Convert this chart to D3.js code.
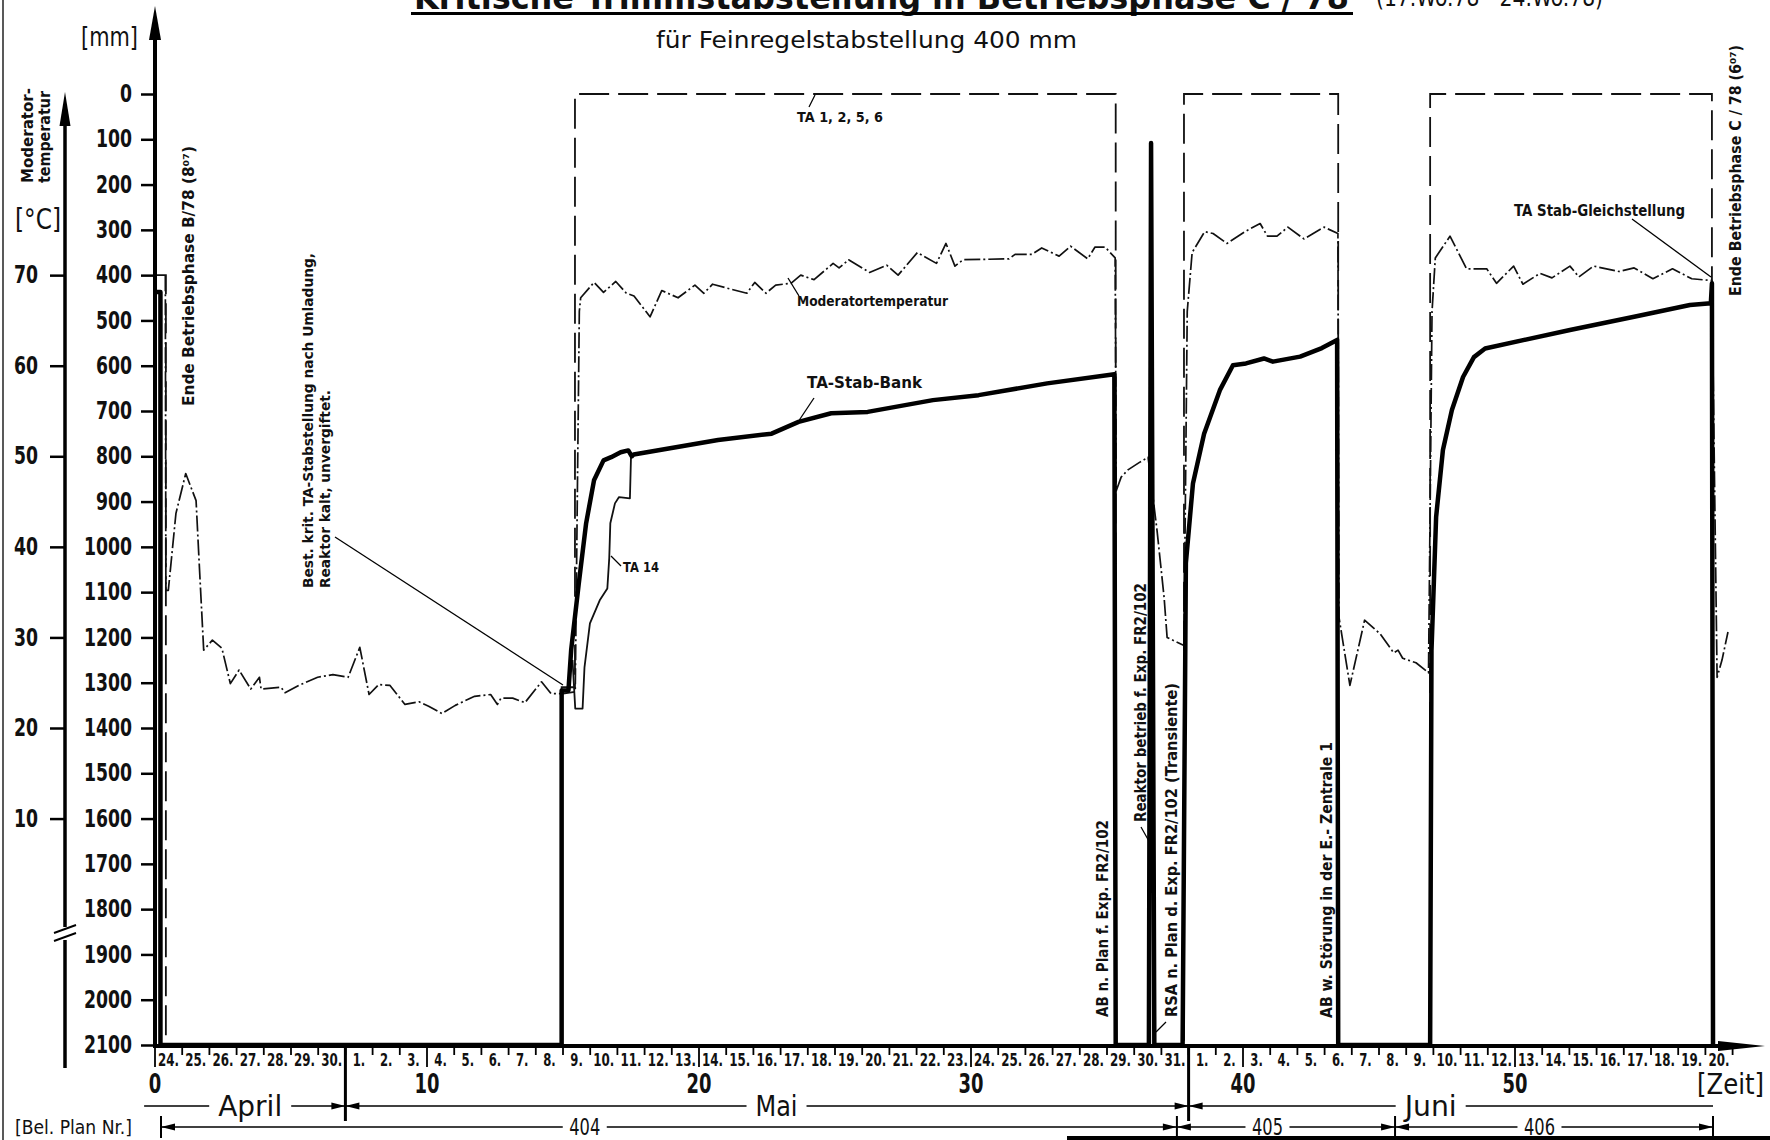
<!DOCTYPE html>
<html>
<head>
<meta charset="utf-8">
<script src="https://cdnjs.cloudflare.com/ajax/libs/d3/7.8.5/d3.min.js"></script>
<style>
  body { margin: 0; background: #fff; }
  svg { display: block; }
  text { fill: #111; }
</style>
</head>
<body>
<div id="chart"></div>
<script>
// ---- data ----
var mmTicks = [0, 100, 200, 300, 400, 500, 600, 700, 800, 900, 1000, 1100, 1200, 1300, 1400, 1500, 1600, 1700, 1800, 1900, 2000, 2100];
var tempTicks = [10, 20, 30, 40, 50, 60, 70];
var dayTicks = [0, 10, 20, 30, 40, 50];
var aprilDays = [24, 25, 26, 27, 28, 29, 30];
var maiDays = [1, 2, 3, 4, 5, 6, 7, 8, 9, 10, 11, 12, 13, 14, 15, 16, 17, 18, 19, 20, 21, 22, 23, 24, 25, 26, 27, 28, 29, 30, 31];
var juniDays = [1, 2, 3, 4, 5, 6, 7, 8, 9, 10, 11, 12, 13, 14, 15, 16, 17, 18, 19, 20];
var months = ["April", "Mai", "Juni"];
var monthBounds = [-0.4, 7, 38, 57.28];
var monthLabelDay = [3.5, 22.85, 46.9];
var planNames = ["404", "405", "406"];
var planBounds = [0.22, 37.57, 45.59, 57.28];
var planLabelDay = [15.8, 40.9, 50.9];

// TA-Stab-Bank position [day, mm]
var bankPos = [
  [0, 437], [0.2, 437], [0.2, 2100], [14.95, 2100], [14.95, 1317], [15.2, 1317], [15.3, 1228],
  [15.58, 1081], [15.85, 948], [16.14, 853], [16.49, 809], [16.77, 802], [17.12, 791], [17.4, 787],
  [17.53, 800], [17.6, 796], [20.7, 764], [22.67, 750], [23.66, 724], [24.86, 705], [26.2, 702],
  [28.6, 676], [30.28, 665], [32.8, 639], [35.27, 619], [35.32, 2100], [36.54, 2100], [36.62, 108],
  [36.74, 2100], [37.78, 2100], [37.9, 1036], [38.16, 860], [38.57, 750], [39.15, 654], [39.63, 599],
  [40.11, 595], [40.77, 584], [41.1, 591], [42.1, 580], [42.9, 561], [43.46, 543], [43.5, 2100],
  [46.88, 2100], [46.93, 1228], [47.1, 934], [47.35, 786], [47.68, 698], [48.09, 625], [48.49, 581],
  [48.9, 562], [52.02, 521], [54.38, 492], [56.43, 466], [57.2, 462], [57.24, 418], [57.28, 2100]
];

// TA 14 [day, mm]
var ta14Pos = [
  [15.35, 1250], [15.45, 1357], [15.72, 1357], [15.79, 1266], [15.99, 1169], [16.35, 1118],
  [16.63, 1092], [16.7, 1025], [16.74, 948], [16.91, 904], [17.06, 890], [17.46, 893], [17.5, 801]
];

// TA 1, 2, 5, 6 [day, mm]
var ta1256Pos = [
  [0, 400], [0.4, 400], [0.4, 2100], [14.95, 2100], [14.95, 1310], [15.44, 1310], [15.44, 0],
  [35.32, 0], [35.32, 2100], [37.83, 2100], [37.83, 0], [43.5, 0], [43.5, 2100], [46.88, 2100],
  [46.88, 0], [57.24, 0], [57.24, 410], [57.28, 2100]
];

// Moderatortemperatur [day, °C]
var moderatorTemp = [
  [0.38, 70], [0.4, 35.2], [0.49, 35.2], [0.77, 43.7], [1.13, 48.1], [1.51, 45.1], [1.62, 38.5],
  [1.79, 28.6], [2.11, 29.7], [2.46, 28.8], [2.77, 24.9], [3.09, 26.4], [3.52, 24.3], [3.84, 25.6],
  [3.9, 24.3], [4.63, 24.5], [4.78, 23.9], [5.28, 24.7], [5.98, 25.6], [6.54, 25.9], [7.1, 25.6],
  [7.53, 28.9], [7.87, 23.7], [8.23, 24.8], [8.64, 24.7], [9.19, 22.6], [9.71, 22.9], [10.06, 22.4],
  [10.55, 21.6], [11.04, 22.5], [11.75, 23.5], [12.34, 23.7], [12.59, 22.6], [12.72, 23.3],
  [13.15, 23.3], [13.6, 22.8], [14.21, 25.1], [14.56, 23.8], [15.0, 23.8], [15.45, 24], [15.6, 66],
  [15.65, 67.5], [16.14, 69.2], [16.49, 68.1], [16.94, 69.3], [17.33, 68], [17.61, 67.7], [18.2, 65.4],
  [18.63, 68.3], [19.23, 67.5], [19.85, 68.9], [20.18, 68], [20.5, 69], [20.99, 68.6], [21.76, 68],
  [22.05, 69.2], [22.46, 68], [22.82, 68.9], [23.38, 69.1], [23.74, 70], [24.23, 69.5], [24.93, 71.3],
  [25.15, 70.8], [25.5, 71.7], [26.27, 70.3], [26.9, 71.1], [27.32, 70], [28.03, 72.5], [28.73, 71.3],
  [29.08, 73.5], [29.41, 71], [29.71, 71.7], [31.4, 71.8], [31.62, 72.3], [32.24, 72.3], [32.6, 73],
  [33.24, 72.1], [33.66, 73.2], [34.29, 71.8], [34.56, 73.1], [34.93, 73.1], [35.3, 71.9],
  [35.34, 46.2], [35.52, 47.7], [35.77, 48.5], [36.18, 49.3], [36.51, 49.9], [36.84, 41.8],
  [37.1, 34.4], [37.21, 30], [37.83, 29.1], [37.95, 66], [38.13, 72.5], [38.59, 74.8], [38.9, 74.6],
  [39.41, 73.5], [40.07, 74.8], [40.63, 75.7], [40.9, 74.3], [41.25, 74.3], [41.65, 75.3], [42.24, 74],
  [42.98, 75.3], [43.49, 74.6], [43.53, 32.2], [43.93, 24.7], [44.47, 31.9], [45.04, 30.4],
  [45.54, 28.3], [45.7, 28.6], [45.87, 27.7], [46.36, 27.2], [46.82, 26.1], [46.95, 66], [47.07, 71.9],
  [47.61, 74.3], [48.22, 70.7], [48.96, 70.7], [49.32, 69.1], [49.95, 71], [50.29, 69], [50.92, 70.2],
  [51.36, 69.7], [52.02, 71], [52.35, 69.8], [52.89, 71], [53.82, 70.4], [54.38, 70.8], [55.07, 69.6],
  [55.79, 70.7], [56.5, 69.6], [57.24, 69.4], [57.43, 25.6], [57.61, 27.5], [57.83, 30.6]
];

// ---- setup ----
var W = 1770, H = 1140;
var cond = "'DejaVu Sans Condensed','DejaVu Sans',sans-serif";
var plain = "'DejaVu Sans','Liberation Sans',sans-serif";

var svg = d3.select("#chart").append("svg")
  .attr("width", W)
  .attr("height", H);

var x = d3.scaleLinear().domain([0, 50]).range([155, 1515]);
var y = d3.scaleLinear().domain([0, 2100]).range([94, 1045]);
var yT = d3.scaleLinear().domain([0, 70]).range([y(1800), y(400)]);

// squeeze a text to a given width (the original lettering is narrow)
function fit(sel, len) {
  sel.attr("textLength", len).attr("lengthAdjust", "spacingAndGlyphs");
  return sel;
}

// left page edge
svg.append("line").attr("x1", 3).attr("x2", 3).attr("y1", 0).attr("y2", H)
  .attr("stroke", "#222").attr("stroke-width", 1.5);
// scan edge bottom right
svg.append("line").attr("x1", 1067).attr("x2", W).attr("y1", 1138).attr("y2", 1138)
  .attr("stroke", "#000").attr("stroke-width", 4);

// title (cut off at top of the scan, as in the original)
fit(svg.append("text").attr("x", 414).attr("y", 9)
  .attr("font-family", cond).attr("font-weight", "bold").attr("font-size", 34)
  .text("Kritische Trimmstabstellung in Betriebsphase  C / 78"), 935);
svg.append("line").attr("x1", 411).attr("x2", 1353).attr("y1", 13.5).attr("y2", 13.5)
  .attr("stroke", "#000").attr("stroke-width", 3);
fit(svg.append("text").attr("x", 1376).attr("y", 6)
  .attr("font-family", cond).attr("font-size", 24)
  .text("(17.Wo.78 - 24.Wo.78)"), 227);

fit(svg.append("text").attr("x", 656).attr("y", 48)
  .attr("font-family", cond).attr("font-size", 23)
  .text("für Feinregelstabstellung 400 mm"), 421);

// ---- series ----
var lineMM = d3.line().x(function(d) { return x(d[0]); }).y(function(d) { return y(d[1]); });
var lineT = d3.line().x(function(d) { return x(d[0]); }).y(function(d) { return yT(d[1]); });

svg.append("path").datum(ta1256Pos).attr("d", lineMM)
  .attr("fill", "none").attr("stroke", "#111").attr("stroke-width", 1.8)
  .attr("stroke-dasharray", "30,9");

svg.append("path").datum(moderatorTemp).attr("d", lineT)
  .attr("fill", "none").attr("stroke", "#111").attr("stroke-width", 1.7)
  .attr("stroke-linejoin", "round")
  .attr("stroke-dasharray", "16,3,2,3");

svg.append("path").datum(ta14Pos).attr("d", lineMM)
  .attr("fill", "none").attr("stroke", "#111").attr("stroke-width", 1.8)
  .attr("stroke-linejoin", "round");

svg.append("path").datum(bankPos).attr("d", lineMM)
  .attr("fill", "none").attr("stroke", "#000").attr("stroke-width", 4.5)
  .attr("stroke-linejoin", "round");

// ---- mm axis ----
var mmAxis = svg.append("g").attr("transform", "translate(155,0)")
  .call(d3.axisLeft(y).tickValues(mmTicks).tickSize(14).tickPadding(9).tickFormat(d3.format("d")));
mmAxis.select(".domain").remove();
mmAxis.selectAll(".tick line").attr("stroke", "#000").attr("stroke-width", 2.5);
mmAxis.selectAll(".tick text").attr("font-family", cond).attr("font-weight", "bold")
  .attr("font-size", 24).attr("fill", "#111")
  .attr("textLength", function(d) { return String(d).length * 12; })
  .attr("lengthAdjust", "spacingAndGlyphs");
svg.append("line").attr("x1", 155).attr("x2", 155).attr("y1", 30).attr("y2", 1048)
  .attr("stroke", "#000").attr("stroke-width", 4);
svg.append("path").attr("d", "M155,6 L161,40 L149,40 Z").attr("fill", "#000");
fit(svg.append("text").attr("x", 81).attr("y", 46)
  .attr("font-family", cond).attr("font-size", 27).text("[mm]"), 57);

// ---- temperature axis ----
var tAxis = svg.append("g").attr("transform", "translate(65,0)")
  .call(d3.axisLeft(yT).tickValues(tempTicks).tickSize(15).tickPadding(12));
tAxis.select(".domain").remove();
tAxis.selectAll(".tick line").attr("stroke", "#000").attr("stroke-width", 2.5);
tAxis.selectAll(".tick text").attr("font-family", cond).attr("font-weight", "bold")
  .attr("font-size", 24).attr("fill", "#111")
  .attr("textLength", function(d) { return String(d).length * 12; })
  .attr("lengthAdjust", "spacingAndGlyphs");
svg.append("line").attr("x1", 65).attr("x2", 65).attr("y1", 115).attr("y2", 927)
  .attr("stroke", "#000").attr("stroke-width", 3.5);
svg.append("line").attr("x1", 65).attr("x2", 65).attr("y1", 940).attr("y2", 1068)
  .attr("stroke", "#000").attr("stroke-width", 3.5);
svg.append("line").attr("x1", 54).attr("x2", 76).attr("y1", 933).attr("y2", 925)
  .attr("stroke", "#000").attr("stroke-width", 2);
svg.append("line").attr("x1", 54).attr("x2", 76).attr("y1", 941).attr("y2", 933)
  .attr("stroke", "#000").attr("stroke-width", 2);
svg.append("path").attr("d", "M65,92 L70.5,126 L59.5,126 Z").attr("fill", "#000");
fit(svg.append("text").attr("x", 15).attr("y", 229)
  .attr("font-family", cond).attr("font-size", 28).text("[°C]"), 46);
fit(svg.append("text").attr("transform", "translate(33,183) rotate(-90)")
  .attr("font-family", plain).attr("font-weight", "bold").attr("font-size", 15)
  .text("Moderator-"), 95);
fit(svg.append("text").attr("transform", "translate(50,183) rotate(-90)")
  .attr("font-family", plain).attr("font-weight", "bold").attr("font-size", 15)
  .text("temperatur"), 92);

// ---- time axis ----
svg.append("line").attr("x1", 153).attr("x2", 1735).attr("y1", 1046).attr("y2", 1046)
  .attr("stroke", "#000").attr("stroke-width", 4);
svg.append("path").attr("d", "M1765,1046 L1718,1041 L1718,1051 Z").attr("fill", "#000");

var dayLabels = aprilDays.concat(maiDays, juniDays);
var dayIdx = d3.range(dayLabels.length + 1);
svg.append("g").selectAll("line").data(dayIdx).join("line")
  .attr("x1", function(d) { return x(d); }).attr("x2", function(d) { return x(d); })
  .attr("y1", 1048)
  .attr("y2", function(d) { return d % 10 === 0 ? 1067 : 1055; })
  .attr("stroke", "#000").attr("stroke-width", 1.8);
svg.append("g").selectAll("text").data(dayLabels).join("text")
  .attr("x", function(d, i) { return x(i + 0.5); })
  .attr("y", 1066)
  .attr("text-anchor", "middle")
  .attr("font-family", cond).attr("font-weight", "bold").attr("font-size", 18)
  .attr("textLength", function(d) { return String(d).length * 8.5 + 4; })
  .attr("lengthAdjust", "spacingAndGlyphs")
  .text(function(d) { return d + "."; });
svg.append("g").selectAll("text").data(dayTicks).join("text")
  .attr("x", function(d) { return x(d); })
  .attr("y", 1093)
  .attr("text-anchor", "middle")
  .attr("font-family", cond).attr("font-weight", "bold").attr("font-size", 26)
  .attr("textLength", function(d) { return String(d).length * 12.5; })
  .attr("lengthAdjust", "spacingAndGlyphs")
  .text(function(d) { return d; });
fit(svg.append("text").attr("x", 1697).attr("y", 1094)
  .attr("font-family", cond).attr("font-size", 28).text("[Zeit]"), 67);

// arrowhead helper: tip at (tx, ty), pointing dir (+1 right / -1 left)
function arrowHead(g, tx, ty, dir) {
  g.append("path")
    .attr("d", "M" + tx + "," + ty + " L" + (tx - dir * 14) + "," + (ty - 3.5) +
      " L" + (tx - dir * 14) + "," + (ty + 3.5) + " Z")
    .attr("fill", "#000");
}

// month row
var monthRow = svg.append("g");
var monthY = 1106;
var monthWidth = [64, 42, 52];
months.forEach(function(m, i) {
  var a = x(monthBounds[i]), b = x(monthBounds[i + 1]);
  var c = x(monthLabelDay[i]);
  fit(monthRow.append("text").attr("x", c).attr("y", 1116).attr("text-anchor", "middle")
    .attr("font-family", cond).attr("font-size", 28).text(m), monthWidth[i]);
  var half = monthWidth[i] / 2 + 9;
  monthRow.append("line").attr("x1", a).attr("x2", c - half).attr("y1", monthY).attr("y2", monthY)
    .attr("stroke", "#000").attr("stroke-width", 1.6);
  monthRow.append("line").attr("x1", c + half).attr("x2", b).attr("y1", monthY).attr("y2", monthY)
    .attr("stroke", "#000").attr("stroke-width", 1.6);
  if (i > 0) arrowHead(monthRow, a, monthY, -1);
  if (i < months.length - 1) arrowHead(monthRow, b, monthY, 1);
});
[monthBounds[1], monthBounds[2]].forEach(function(d) {
  monthRow.append("line").attr("x1", x(d)).attr("x2", x(d)).attr("y1", 1046).attr("y2", 1121)
    .attr("stroke", "#000").attr("stroke-width", 3);
});

// Bel. Plan row
var planRow = svg.append("g");
var planY = 1127;
fit(svg.append("text").attr("x", 15).attr("y", 1134)
  .attr("font-family", cond).attr("font-size", 20).text("[Bel. Plan Nr.]"), 117);
planNames.forEach(function(p, i) {
  var a = x(planBounds[i]), b = x(planBounds[i + 1]), c = x(planLabelDay[i]);
  fit(planRow.append("text").attr("x", c).attr("y", 1135).attr("text-anchor", "middle")
    .attr("font-family", cond).attr("font-size", 23).text(p), 31);
  planRow.append("line").attr("x1", a).attr("x2", c - 22).attr("y1", planY).attr("y2", planY)
    .attr("stroke", "#000").attr("stroke-width", 1.6);
  planRow.append("line").attr("x1", c + 22).attr("x2", b).attr("y1", planY).attr("y2", planY)
    .attr("stroke", "#000").attr("stroke-width", 1.6);
  arrowHead(planRow, a, planY, -1);
  arrowHead(planRow, b, planY, 1);
});
planBounds.forEach(function(d) {
  planRow.append("line").attr("x1", x(d)).attr("x2", x(d)).attr("y1", 1116).attr("y2", 1138)
    .attr("stroke", "#000").attr("stroke-width", 2);
});

// ---- annotations ----
function vtext(txt, cx, yBottom, len, fs, weight) {
  fit(svg.append("text")
    .attr("transform", "translate(" + (cx + fs * 0.36) + "," + yBottom + ") rotate(-90)")
    .attr("font-family", plain).attr("font-size", fs)
    .attr("font-weight", weight || "normal")
    .text(txt), len);
}
function htext(txt, x0, yb, len, fs, weight) {
  fit(svg.append("text").attr("x", x0).attr("y", yb)
    .attr("font-family", plain).attr("font-size", fs)
    .attr("font-weight", weight || "normal")
    .text(txt), len);
}
function pointer(x1, y1, x2, y2) {
  svg.append("line").attr("x1", x1).attr("y1", y1).attr("x2", x2).attr("y2", y2)
    .attr("stroke", "#000").attr("stroke-width", 1.3);
}

vtext("Ende Betriebsphase  B/78  (8\u2070\u2077)", 189, 406, 260, 15, "bold");
vtext("Best. krit. TA-Stabstellung nach Umladung,", 308, 588, 335, 14, "bold");
vtext("Reaktor kalt, unvergiftet.", 325, 588, 198, 14, "bold");
pointer(335, 537, 563, 685);

htext("TA 1,  2, 5, 6", 797, 122, 86, 14, "bold");
pointer(815, 95, 809, 107);
htext("Moderatortemperatur", 797, 306, 151, 14, "bold");
pointer(799, 296, 788, 278);
htext("TA-Stab-Bank", 807, 388, 115, 15, "bold");
pointer(814, 398, 798, 422);
htext("TA 14", 623, 572, 36, 14, "bold");
pointer(621, 566, 611, 556);

vtext("AB  n. Plan  f. Exp. FR2/102", 1103, 1017, 197, 15, "bold");
vtext("Reaktor betrieb  f. Exp. FR2/102", 1141, 822, 239, 15, "bold");
pointer(1141, 827, 1150, 843);
vtext("RSA  n. Plan  d. Exp. FR2/102   (Transiente)", 1172, 1017, 334, 15, "bold");
pointer(1166, 1022, 1156, 1032);
vtext("AB  w. Störung  in der  E.- Zentrale 1", 1327, 1018, 276, 15, "bold");

htext("TA Stab-Gleichstellung", 1514, 216, 171, 15, "bold");
pointer(1632, 219, 1711, 277);
vtext("Ende  Betriebsphase  C / 78  (6\u2070\u2077)", 1736, 296, 251, 15, "bold");
</script>
</body>
</html>
